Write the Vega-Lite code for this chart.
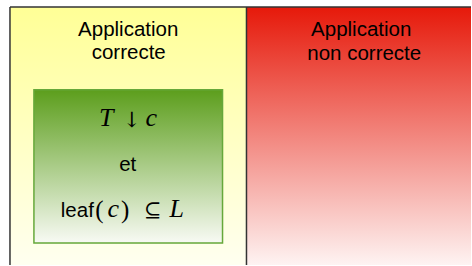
{
  "$schema": "https://vega.github.io/schema/vega-lite/v6.json",
  "width": 472,
  "height": 266,
  "padding": 0,
  "autosize": {"type": "fit", "contains": "padding"},
  "background": "white",
  "config": {"view": {"stroke": null}},
  "layer": [
    {
      "data": {"values": [{"name": "left", "x": 10, "x2": 247, "y": 7, "y2": 266}]},
      "mark": {"type": "rect", "fill": {"gradient": "linear", "x1": 0, "y1": 0, "x2": 0, "y2": 1, "stops": [{"offset": 0, "color": "#ffff96"}, {"offset": 1, "color": "#fffff0"}]}},
      "encoding": {
        "x": {"field": "x", "type": "quantitative", "scale": {"domain": [0, 472], "nice": false, "zero": false}, "axis": null},
        "x2": {"field": "x2"},
        "y": {"field": "y", "type": "quantitative", "scale": {"domain": [0, 266], "nice": false, "zero": false, "reverse": true}, "axis": null},
        "y2": {"field": "y2"}
      }
    },
    {
      "data": {"values": [{"name": "right", "x": 247, "x2": 472, "y": 7, "y2": 266}]},
      "mark": {"type": "rect", "fill": {"gradient": "linear", "x1": 0, "y1": 0, "x2": 0, "y2": 1, "stops": [{"offset": 0, "color": "#e6190a"}, {"offset": 1, "color": "#fef3f2"}]}},
      "encoding": {
        "x": {"field": "x", "type": "quantitative"},
        "x2": {"field": "x2"},
        "y": {"field": "y", "type": "quantitative"},
        "y2": {"field": "y2"}
      }
    },
    {
      "data": {"values": [
        {"x": 10, "x2": 10, "y": 7, "y2": 266},
        {"x": 10, "x2": 472, "y": 7, "y2": 7},
        {"x": 247, "x2": 247, "y": 7, "y2": 266}
      ]},
      "mark": {"type": "rule", "color": "#333333", "strokeWidth": 1.5},
      "encoding": {
        "x": {"field": "x", "type": "quantitative"},
        "x2": {"field": "x2"},
        "y": {"field": "y", "type": "quantitative"},
        "y2": {"field": "y2"}
      }
    },
    {
      "data": {"values": [{"name": "box", "x": 34, "x2": 223, "y": 90, "y2": 244}]},
      "mark": {"type": "rect", "stroke": "#66a83a", "strokeWidth": 1.5, "fill": {"gradient": "linear", "x1": 0, "y1": 0, "x2": 0, "y2": 1, "stops": [{"offset": 0, "color": "#5c9e1c"}, {"offset": 1, "color": "#f8faf4"}]}},
      "encoding": {
        "x": {"field": "x", "type": "quantitative"},
        "x2": {"field": "x2"},
        "y": {"field": "y", "type": "quantitative"},
        "y2": {"field": "y2"}
      }
    },
    {
      "data": {"values": [
        {"t": "Application", "x": 128.5, "y": 36},
        {"t": "correcte", "x": 129, "y": 59},
        {"t": "Application", "x": 362, "y": 36},
        {"t": "non correcte", "x": 365, "y": 60},
        {"t": "et", "x": 128, "y": 172},
        {"t": "leaf", "x": 77.5, "y": 218}
      ]},
      "mark": {"type": "text", "font": "Liberation Sans", "fontSize": 20.5, "color": "#000000", "align": "center", "baseline": "alphabetic"},
      "encoding": {
        "x": {"field": "x", "type": "quantitative"},
        "y": {"field": "y", "type": "quantitative"},
        "text": {"field": "t"}
      }
    },
    {
      "data": {"values": [
        {"t": "T", "x": 106.5, "y": 126},
        {"t": "c", "x": 151.5, "y": 126},
        {"t": "c", "x": 113.5, "y": 218},
        {"t": "L", "x": 177, "y": 218}
      ]},
      "mark": {"type": "text", "font": "Liberation Serif", "fontStyle": "italic", "fontSize": 26, "color": "#000000", "align": "center", "baseline": "alphabetic"},
      "encoding": {
        "x": {"field": "x", "type": "quantitative"},
        "y": {"field": "y", "type": "quantitative"},
        "text": {"field": "t"}
      }
    },
    {
      "data": {"values": [
        {"t": "(", "x": 99.5, "y": 219},
        {"t": ")", "x": 125.5, "y": 219}
      ]},
      "mark": {"type": "text", "font": "Liberation Serif", "fontSize": 25, "color": "#000000", "align": "center", "baseline": "alphabetic"},
      "encoding": {
        "x": {"field": "x", "type": "quantitative"},
        "y": {"field": "y", "type": "quantitative"},
        "text": {"field": "t"}
      }
    },
    {
      "data": {"values": [
        {"t": "↓", "x": 132, "y": 127},
        {"t": "⊆", "x": 153, "y": 218}
      ]},
      "mark": {"type": "text", "font": "DejaVu Serif", "fontSize": 21, "color": "#000000", "align": "center", "baseline": "alphabetic"},
      "encoding": {
        "x": {"field": "x", "type": "quantitative"},
        "y": {"field": "y", "type": "quantitative"},
        "text": {"field": "t"}
      }
    }
  ]
}
